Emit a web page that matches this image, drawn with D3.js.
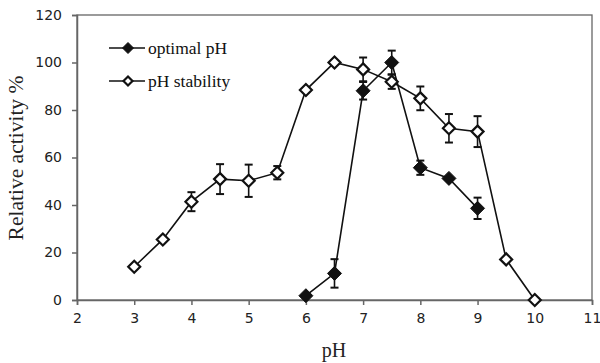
<!DOCTYPE html>
<html><head><meta charset="utf-8">
<script src="https://cdn.jsdelivr.net/npm/d3@7"></script>
<style>body{margin:0;background:#fff}svg{display:block}</style>
</head><body>
<svg id="c" width="600" height="363"></svg>
<script>
const xTicks = [2,3,4,5,6,7,8,9,10,11];
const yTicks = [0,20,40,60,80,100,120];
const optPH = [6,6.5,7,7.5,8,8.5,9];
const optVal = [1.8,11.2,88.1,100,55.7,51.2,38.6];
const optErr = [0,6,3.7,5,3,0,4.5];
const stabPH = [3,3.5,4,4.5,5,5.5,6,6.5,7,7.5,8,8.5,9,9.5,10];
const stabVal = [14,25.5,41.4,50.9,50.2,53.6,88.4,100,97.1,91.9,84.9,72.3,70.9,17.1,0];
const stabErr = [0,0,4,6.3,6.8,2.8,0,0,5,3,5,6,6.5,0,0];
const seriesNames = ["optimal pH","pH stability"];

const svg = d3.select("#c");
const L=77, R=592, T=15, B=300;
const x = d3.scaleLinear().domain([2,11]).range([L,R]);
const y = d3.scaleLinear().domain([0,120]).range([B,T]);
const axisCol = "#666";

// frame
svg.append("rect").attr("x",L).attr("y",T).attr("width",R-L).attr("height",B-T)
  .attr("fill","none").attr("stroke",axisCol).attr("stroke-width",1.3);

const xa = svg.append("g").attr("transform",`translate(0,${B})`)
  .call(d3.axisBottom(x).tickValues(xTicks).tickSize(5).tickPadding(8).tickFormat(d3.format("d")));
const ya = svg.append("g").attr("transform",`translate(${L},0)`)
  .call(d3.axisLeft(y).tickValues(yTicks).tickSize(5).tickPadding(10).tickFormat(d3.format("d")));
[xa,ya].forEach(a=>{
  a.selectAll("path,line").attr("stroke",axisCol).attr("stroke-width",1.5);
  a.selectAll("text").attr("font-family","DejaVu Sans").attr("font-size",14).attr("fill","#222");
});

svg.append("text").attr("x",334).attr("y",357).attr("text-anchor","middle")
  .attr("font-family","Liberation Serif").attr("font-size",20).attr("fill","#222").text("pH");
svg.append("text").attr("transform","translate(23,158) rotate(-90)").attr("text-anchor","middle")
  .attr("font-family","Liberation Serif").attr("font-size",21.5).attr("fill","#222").text("Relative activity %");

const line = d3.line().x(d=>x(d[0])).y(d=>y(d[1]));
function drawSeries(xs, vs, es){
  const pts = xs.map((v,i)=>[v,vs[i],es[i]]);
  svg.append("path").datum(pts).attr("d",line).attr("fill","none").attr("stroke","#111").attr("stroke-width",1.6);
  const g = svg.append("g");
  pts.filter(p=>p[2]>0).forEach(p=>{
    const cx=x(p[0]), y1=y(p[1]+p[2]), y2=y(p[1]-p[2]);
    g.append("line").attr("x1",cx).attr("x2",cx).attr("y1",y1).attr("y2",y2).attr("stroke","#111").attr("stroke-width",1.6);
    [y1,y2].forEach(yy=>g.append("line").attr("x1",cx-4).attr("x2",cx+4).attr("y1",yy).attr("y2",yy).attr("stroke","#111").attr("stroke-width",2));
  });
  return pts;
}
function diamond(cx,cy,filled,r){
  svg.append("path").attr("d",`M${cx},${cy-r}L${cx+r},${cy}L${cx},${cy+r}L${cx-r},${cy}Z`)
    .attr("fill",filled?"#111":"#fff").attr("stroke","#111").attr("stroke-width",filled?1:2.2);
}
const sp = drawSeries(stabPH, stabVal, stabErr);
const op = drawSeries(optPH, optVal, optErr);
sp.forEach(p=>diamond(x(p[0]),y(p[1]),false,6));
op.forEach(p=>diamond(x(p[0]),y(p[1]),true,7));

// legend
[[48,true],[81,false]].forEach((d,i)=>{
  svg.append("line").attr("x1",109).attr("x2",145).attr("y1",d[0]).attr("y2",d[0]).attr("stroke","#111").attr("stroke-width",1.6);
  diamond(128,d[0],d[1],d[1]?5.5:4.5);
  svg.append("text").attr("x",148).attr("y",d[0]+5.5).attr("font-family","Liberation Serif").attr("font-size",17.5)
    .attr("fill","#111").text(seriesNames[i]);
});
</script>
</body></html>
